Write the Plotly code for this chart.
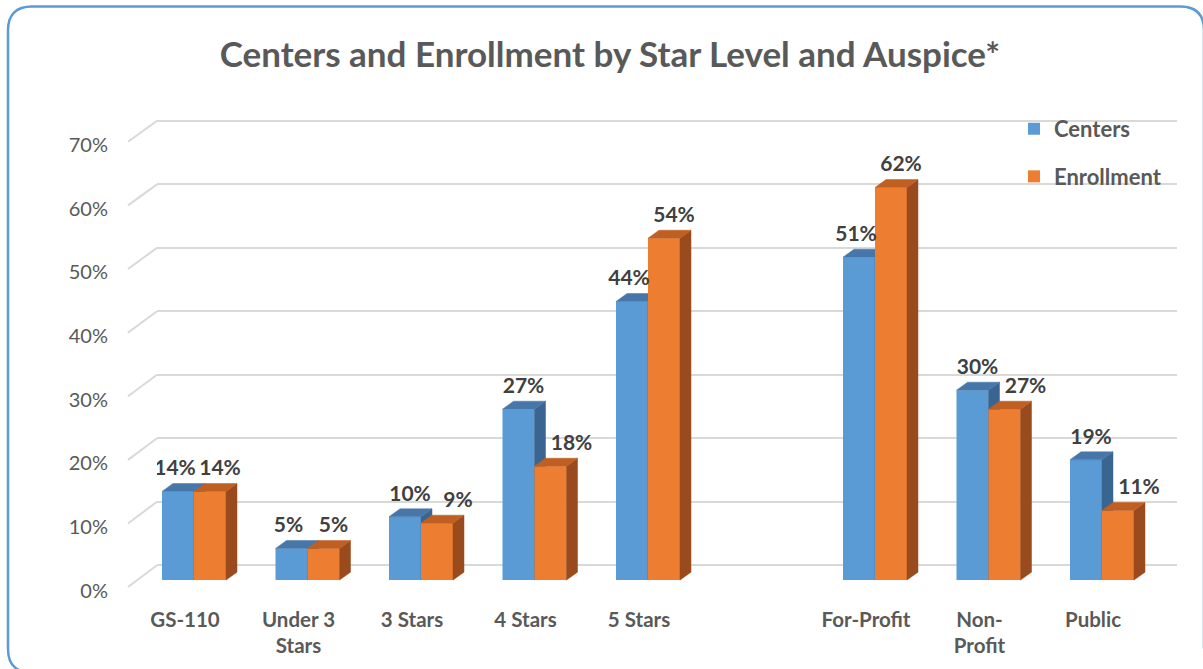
import plotly.graph_objects as go

# ---------------- data ----------------
categories = ["GS-110", "Under 3<br>Stars", "3 Stars", "4 Stars", "5 Stars",
              "For-Profit", "Non-<br>Profit", "Public"]
groups = ["Star Level"] * 5 + ["Auspice"] * 3
centers = [14, 5, 10, 27, 44, 51, 30, 19]
enrollment = [14, 5, 9, 18, 54, 62, 27, 11]
y_ticks = [0, 10, 20, 30, 40, 50, 60, 70]

# ---------------- layout geometry ----------------
W, H = 1203, 669
PL, PR, PT, PB = 157, 1177, 100, 600          # plot area (px)
CAT_PX = 113.5                                # px per category step
FIRST_CAT_PX = 194                            # px of first category centre (front face)
BAR_W = 32 / CAT_PX                           # bar width in category units
DX = 11 / CAT_PX                              # 3D depth offset (x)

# vertical mappings (value 0 pixel, px per 1%)
BAR_ZERO, BAR_SCALE = 583, 6.37
GRID_ZERO, GRID_SCALE = 568, 447 / 70
FRONT_ZERO, FRONT_SCALE = 590, 448 / 70
LAB_ZERO = 593.5
DY = 8 / BAR_SCALE


def yrange(zero_px, scale):
    lo = -(PB - zero_px) / scale
    return [lo, lo + (PB - PT) / scale]


def px_x(p):
    return (p - PL) / (PR - PL)


def px_y(p):
    return (PB - p) / (PB - PT)


# category positions with a gap between groups
xpos = []
p = 0
for i, g in enumerate(groups):
    if i > 0 and g != groups[i - 1]:
        p += 1
    xpos.append(p)
    p += 1

xlo = -(FIRST_CAT_PX - PL) / CAT_PX
xrange_ = [xlo, xlo + (PR - PL) / CAT_PX]

BLUE, BLUE_TOP, BLUE_SIDE = "#5b9bd5", "#4677a8", "#3a6591"
ORANGE, ORANGE_TOP, ORANGE_SIDE = "#ed7d31", "#bf5f22", "#9a4b1d"
TXT = "#595959"
FONT = "Lato"

fig = go.Figure()

# invisible trace for grid (back wall) axis
fig.add_trace(go.Scatter(x=[xpos[0]], y=[0], mode="markers", marker=dict(opacity=0),
                         hoverinfo="skip", showlegend=False, xaxis="x", yaxis="y"))


def faces(xl_list, vals):
    sx, sy, tx, ty = [], [], [], []
    for xl, v in zip(xl_list, vals):
        xr = xl + BAR_W
        sx += [xr, xr, xr + DX, xr + DX, xr, None]
        sy += [0, v, v + DY, DY, 0, None]
        tx += [xl, xr, xr + DX, xl + DX, xl, None]
        ty += [v, v, v + DY, v + DY, v, None]
    return sx, sy, tx, ty


for name, vals, off, col, ctop, cside, yax in [
    ("Centers", centers, -BAR_W, BLUE, BLUE_TOP, BLUE_SIDE, "y2"),
    ("Enrollment", enrollment, 0.0, ORANGE, ORANGE_TOP, ORANGE_SIDE, "y3"),
]:
    fig.add_trace(go.Bar(x=xpos, y=vals, name=name, width=BAR_W, offset=off,
                         marker=dict(color=col, line=dict(width=0)),
                         xaxis="x", yaxis=yax, hoverinfo="skip",
                         legendgroup=name))
    xl_list = [x + off for x in xpos]
    sx, sy, tx, ty = faces(xl_list, vals)
    fig.add_trace(go.Scatter(x=sx, y=sy, fill="toself", fillcolor=cside, mode="lines",
                             line=dict(color=cside, width=0.5), hoverinfo="skip",
                             showlegend=False, xaxis="x", yaxis=yax))
    fig.add_trace(go.Scatter(x=tx, y=ty, fill="toself", fillcolor=ctop, mode="lines",
                             line=dict(color=ctop, width=0.5), hoverinfo="skip",
                             showlegend=False, xaxis="x", yaxis=yax))

# value labels (top layer); nudge the shorter orange label clear of the blue side
blue_lab_x = [x - BAR_W / 2 + ((-3 if o >= b else 5) / CAT_PX)
              for x, b, o in zip(xpos, centers, enrollment)]
orange_lab_x = [x + BAR_W / 2 + ((10 if o >= b else 21) / CAT_PX)
                for x, b, o in zip(xpos, centers, enrollment)]
LAB_LIFT = DY + 3 / BAR_SCALE
for vals, lx in [(centers, blue_lab_x), (enrollment, orange_lab_x)]:
    fig.add_trace(go.Scatter(
        x=lx, y=[v + LAB_LIFT for v in vals],
        text=[f"{v}%" for v in vals], mode="text", textposition="top center",
        textfont=dict(family=FONT, size=21, color="#404040", weight="bold"),
        hoverinfo="skip", showlegend=False, xaxis="x", yaxis="y3"))

# invisible trace for tick-label axis
fig.add_trace(go.Scatter(x=[xpos[0]], y=[0], mode="markers", marker=dict(opacity=0),
                         hoverinfo="skip", showlegend=False, xaxis="x", yaxis="y4"))

# side-wall diagonals for each gridline
shapes = []
for v in y_ticks:
    shapes.append(dict(type="line", xref="paper", yref="paper",
                       x0=px_x(128), y0=px_y(FRONT_ZERO - FRONT_SCALE * v),
                       x1=px_x(PL), y1=px_y(GRID_ZERO - GRID_SCALE * v),
                       line=dict(color="#d9d9d9", width=2), layer="below"))

# rounded chart border (right and bottom edges run off the picture):
# left + top edges with rounded corners, drawn as an open path
bx0, by0, bx1, by1, r = 8, 6, 1204, 676, 24
path = (f"M {px_x(bx0 + r)},{px_y(by1)} Q {px_x(bx0)},{px_y(by1)} {px_x(bx0)},{px_y(by1 - r)} "
        f"L {px_x(bx0)},{px_y(by0 + r)} Q {px_x(bx0)},{px_y(by0)} {px_x(bx0 + r)},{px_y(by0)} "
        f"L {px_x(bx1 - r)},{px_y(by0)} Q {px_x(bx1)},{px_y(by0)} {px_x(bx1)},{px_y(by0 + r)} "
        f"L {px_x(bx1)},{px_y(by1 - r)}")
shapes.append(dict(type="path", xref="paper", yref="paper", path=path,
                   line=dict(color="#5b9bd5", width=2.5), layer="above"))

fig.update_layout(
    width=W, height=H,
    margin=dict(l=PL, r=W - PR, t=PT, b=H - PB),
    paper_bgcolor="white", plot_bgcolor="rgba(0,0,0,0)",
    barmode="overlay",
    title=dict(text="<b>Centers and Enrollment by Star Level and Auspice*</b>",
               x=0.507, xanchor="center", y=1 - 55 / H, yanchor="middle",
               font=dict(family=FONT, size=35, color=TXT)),
    font=dict(family=FONT, color=TXT),
    showlegend=True,
    legend=dict(x=px_x(1014), xanchor="left", y=px_y(108), yanchor="top",
                bgcolor="rgba(0,0,0,0)", tracegroupgap=16,
                font=dict(family=FONT, size=22, color=TXT, weight="bold")),
    xaxis=dict(range=xrange_, tickvals=xpos, ticktext=categories,
               showgrid=False, zeroline=False, showline=False, ticks="",
               ticklabelshift=-9, ticklabelstandoff=8,
               tickfont=dict(family=FONT, size=20.5, color=TXT, weight="bold")),
    yaxis=dict(range=yrange(GRID_ZERO, GRID_SCALE), tickvals=y_ticks,
               showgrid=True, gridcolor="#d9d9d9", gridwidth=2,
               zeroline=False, showline=False, showticklabels=False, ticks=""),
    yaxis2=dict(range=yrange(BAR_ZERO, BAR_SCALE), overlaying="y",
                showgrid=False, zeroline=False, showticklabels=False, ticks=""),
    yaxis3=dict(range=yrange(BAR_ZERO, BAR_SCALE), overlaying="y",
                showgrid=False, zeroline=False, showticklabels=False, ticks=""),
    yaxis4=dict(range=yrange(LAB_ZERO, FRONT_SCALE), overlaying="y", side="left",
                tickvals=y_ticks, ticktext=[f"{v}%" for v in y_ticks],
                showgrid=False, zeroline=False, showline=False, ticks="",
                ticklabelstandoff=48,
                tickfont=dict(family=FONT, size=20, color=TXT)),
    shapes=shapes,
)

fig.write_html("out.html", config={"displayModeBar": False},
               post_script="document.body.style.margin='0px';")
